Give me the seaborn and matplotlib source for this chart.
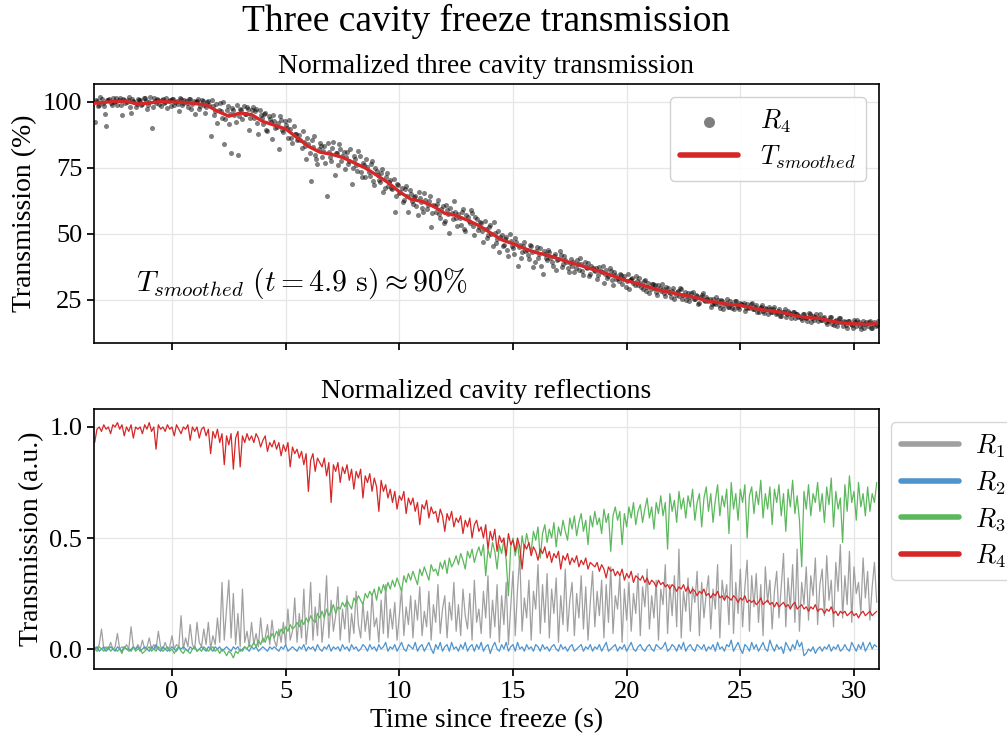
import numpy as np
import pandas as pd
import matplotlib
matplotlib.use("Agg")
import matplotlib.pyplot as plt
import seaborn as sns

# ---------------- data ----------------
# smoothed transmission, sampled every 0.5 s from -3.5 s to 31.0 s
smooth_vals = [99.4, 99.8, 100.3, 100.2, 99.2, 99.6, 100.2, 100.0,
               99.9, 99.4, 98.9, 96.5, 94.6, 95.8, 95.2, 92.6, 91.2, 89.8,
               86.5, 83.2, 81.0, 80.2, 79.0, 77.0, 75.0, 72.3, 69.5, 66.0,
               63.2, 62.3, 60.5, 57.8, 57.0, 55.2, 53.2, 50.5, 47.8, 46.3,
               44.5, 43.0, 42.0, 40.6, 39.2, 38.0, 36.6, 35.3, 33.8, 32.3,
               31.2, 29.8, 28.6, 27.7, 26.8, 26.0, 24.7, 24.1, 23.3, 23.0,
               22.0, 21.2, 20.7, 20.0, 18.9, 18.3, 18.0, 17.0, 16.3, 16.0,
               15.8, 16.0]
smooth_t0, smooth_t1 = -3.5, 31.0

# raw R4 transmission samples, set A: every 0.1 s from -3.4 s to 31.0 s
raw_a = [
    92.5, 100.5, 99.0, 101.2, 98.6, 91.0, 100.8, 99.5, 101.5, 100.2,
    99.0, 101.6, 95.0, 100.7, 99.8, 101.8, 96.0, 100.3, 98.2, 101.0,
    100.6, 99.2, 101.4, 97.5, 100.0, 90.0, 101.5, 99.6, 100.9, 98.4,
    101.2, 99.8, 97.8, 100.6, 101.3, 98.9, 100.4, 96.5, 101.0, 99.6,
    100.2, 98.0, 101.1, 99.4, 95.5, 100.5, 97.2, 100.9, 99.0, 98.1,
    100.4, 87.0, 98.3, 96.5, 92.0, 99.5, 94.0, 84.0, 97.0, 91.5,
    80.5, 96.8, 92.5, 80.0, 97.5, 93.5, 95.5, 98.2, 89.5, 96.8,
    94.0, 97.5, 88.0, 95.2, 91.5, 96.0, 89.0, 93.5, 86.0, 92.8,
    90.5, 82.0, 93.0, 88.5, 91.2, 86.5, 89.8, 84.5, 88.0, 85.5,
    87.5, 82.5, 85.0, 78.5, 84.2, 70.0, 82.8, 80.0, 76.5, 84.5,
    79.0, 83.5, 64.5, 81.2, 77.5, 85.0, 80.5, 76.0, 82.0, 79.5,
    74.5, 81.0, 77.8, 69.0, 79.5, 76.0, 81.5, 73.5, 77.0, 71.5,
    75.5, 72.0, 77.5, 68.5, 74.0, 70.5, 73.0, 66.0, 71.5, 68.0,
    70.5, 67.0, 58.5, 69.0, 65.5, 67.5, 63.0, 68.0, 58.5, 65.0,
    61.5, 64.5, 57.0, 63.5, 60.0, 65.5, 59.5, 62.5, 52.5, 61.0,
    58.5, 63.0, 56.0, 60.5, 55.0, 59.0, 50.5, 58.0, 62.5, 56.0,
    57.5, 53.5, 59.5, 51.0, 56.5, 54.0, 58.0, 49.5, 55.5, 52.5,
    54.0, 47.0, 52.0, 49.5, 53.5, 45.5, 50.5, 48.0, 43.0, 49.5,
    46.0, 49.0, 41.5, 47.5, 44.5, 48.5, 38.0, 46.0, 43.0, 47.0,
    44.0, 40.5, 45.5, 37.5, 43.5, 41.0, 44.5, 35.0, 42.5, 40.0,
    43.0, 39.5, 41.5, 36.5, 40.5, 42.0, 38.5, 40.0, 37.0, 39.0,
    38.0, 35.5, 40.0, 36.5, 38.5, 34.5, 37.5, 39.0, 35.0, 37.0,
    36.0, 33.0, 37.5, 35.5, 31.5, 36.5, 34.0, 36.0, 30.5, 34.5,
    33.5, 35.0, 31.0, 34.0, 32.0, 29.0, 33.0, 31.5, 34.0, 30.5,
    31.5, 29.0, 32.5, 30.0, 27.5, 31.0, 29.5, 28.0, 30.5, 28.5,
    29.0, 26.5, 29.5, 27.5, 28.5, 25.5, 28.0, 26.5, 29.0, 27.0,
    25.0, 27.5, 26.0, 28.0, 25.5, 26.5, 24.0, 27.0, 25.0, 26.0,
    24.5, 22.5, 25.5, 23.5, 25.0, 22.0, 24.5, 23.0, 25.5, 22.5,
    23.5, 21.5, 24.5, 22.5, 24.0, 23.0, 21.0, 23.5, 22.0, 24.0,
    21.5, 23.0, 20.5, 22.5, 21.0, 22.0, 19.5, 21.5, 20.5, 22.5,
    20.0, 21.5, 19.0, 20.5, 18.5, 21.0, 19.5, 20.5, 18.0, 19.5,
    19.0, 17.5, 19.5, 18.0, 20.0, 16.5, 19.0, 18.5, 17.0, 19.5,
    17.5, 18.5, 16.0, 17.0, 18.5, 15.5, 17.5, 16.5, 18.0, 15.0,
    16.5, 14.5, 17.0, 15.5, 17.5, 15.0, 16.5, 14.0, 17.0, 16.0,
    15.0, 17.0, 14.5, 16.5, 15.5]
raw_a_t0, raw_a_t1 = -3.4, 31.0

# raw R4 transmission samples, set B: every 0.1 s from -3.35 s to 31.05 s
raw_b = [
    100.8, 98.5, 101.9, 99.7, 95.5, 100.6, 101.0, 98.8, 100.1, 101.4,
    100.9, 98.7, 101.3, 99.5, 100.6, 97.9, 101.2, 100.0, 99.3, 100.7,
    98.9, 101.5, 100.2, 99.0, 101.7, 98.2, 100.5, 101.1, 99.4, 100.8,
    99.5, 101.6, 100.3, 98.6, 101.0, 100.1, 99.2, 101.5, 98.8, 100.6,
    99.6, 101.3, 97.5, 100.4, 99.9, 101.0, 98.4, 100.2, 96.0, 100.1,
    98.8, 100.6, 95.0, 99.3, 97.0, 96.5, 99.8, 93.5, 98.4, 95.5,
    97.8, 95.0, 99.0, 94.5, 96.8, 98.5, 95.5, 97.2, 94.0, 98.0,
    96.5, 92.0, 97.0, 94.0, 95.5, 89.5, 94.8, 92.5, 95.0, 90.0,
    92.0, 94.5, 89.5, 92.8, 90.0, 93.0, 86.5, 91.0, 88.0, 86.0,
    85.5, 89.0, 83.5, 86.5, 80.5, 85.5, 87.0, 78.5, 82.0, 83.5,
    81.5, 77.0, 84.5, 79.0, 82.5, 72.5, 80.5, 84.0, 77.5, 81.0,
    79.0, 76.5, 82.0, 75.0, 78.5, 74.0, 79.5, 71.5, 76.0, 78.5,
    73.5, 76.5, 70.0, 75.0, 72.5, 69.5, 74.5, 67.5, 73.0, 69.5,
    67.5, 71.0, 64.5, 68.5, 66.0, 62.0, 67.0, 64.5, 66.5, 62.5,
    64.0, 60.5, 66.0, 62.0, 58.5, 63.0, 61.0, 64.5, 58.0, 60.5,
    61.5, 57.5, 59.5, 54.0, 61.0, 57.5, 60.0, 55.5, 58.5, 53.0,
    56.0, 58.5, 52.0, 57.0, 55.0, 59.0, 53.0, 56.5, 51.5, 54.5,
    51.0, 55.0, 48.5, 52.5, 50.0, 54.5, 46.5, 51.0, 49.0, 45.5,
    48.0, 44.0, 50.0, 45.5, 42.5, 47.0, 45.0, 41.0, 45.5, 43.5,
    42.0, 46.0, 43.0, 39.5, 45.0, 42.5, 38.0, 43.5, 41.0, 44.0,
    41.0, 38.0, 42.5, 40.0, 43.5, 37.5, 41.5, 39.5, 35.5, 40.5,
    39.5, 37.0, 38.5, 41.0, 36.0, 39.5, 37.0, 34.0, 38.0, 36.5,
    37.0, 34.5, 36.0, 38.0, 35.0, 33.5, 37.0, 32.5, 35.5, 33.0,
    32.0, 34.5, 33.0, 30.0, 35.0, 32.5, 33.5, 30.5, 32.0, 33.5,
    30.0, 32.0, 28.5, 31.5, 29.0, 31.0, 30.5, 27.0, 29.5, 31.0,
    27.5, 30.0, 28.0, 26.0, 29.5, 27.0, 28.5, 29.5, 25.5, 28.0,
    26.5, 24.5, 27.5, 25.5, 27.0, 23.5, 26.0, 27.5, 24.5, 25.5,
    25.5, 23.5, 24.0, 26.0, 23.0, 25.0, 21.5, 24.0, 22.5, 24.5,
    22.0, 24.5, 23.0, 21.5, 23.5, 24.0, 22.0, 22.5, 23.5, 21.5,
    22.5, 20.5, 22.0, 23.0, 20.0, 21.5, 22.5, 20.5, 21.5, 19.5,
    21.0, 19.0, 20.5, 21.5, 19.5, 20.0, 18.0, 20.5, 19.5, 18.5,
    18.0, 19.5, 18.5, 17.0, 19.5, 18.0, 17.5, 19.5, 18.0, 17.5,
    18.0, 16.5, 17.5, 18.5, 16.0, 17.0, 15.0, 18.0, 16.5, 17.0,
    15.5, 17.0, 16.0, 14.5, 16.5, 17.5, 15.0, 16.0, 14.5, 16.5,
    16.5, 14.5, 16.0, 15.0, 17.0]
raw_b_t0, raw_b_t1 = -3.35, 31.05

# normalized cavity reflections, every 0.1 s from -3.4 s to 31.0 s
refl_t0, refl_t1 = -3.4, 31.0
r1_vals = [
    0.01, 0.00, 0.02, 0.09, 0.00, 0.01, 0.00, 0.03, 0.00, 0.01,
    0.07, 0.00, 0.01, 0.00, 0.02, 0.00, 0.10, 0.01, 0.00, 0.02,
    0.00, 0.04, 0.00, 0.01, 0.05, 0.00, 0.02, 0.00, 0.08, 0.01,
    0.00, 0.03, 0.00, 0.01, 0.06, 0.00, 0.02, 0.01, 0.15, 0.00,
    0.05, 0.01, 0.11, 0.02, 0.00, 0.12, 0.03, 0.01, 0.09, 0.02,
    0.12, 0.00, 0.06, 0.02, 0.14, 0.03, 0.30, 0.04, 0.18, 0.31,
    0.05, 0.25, 0.02, 0.16, 0.01, 0.27, 0.03, 0.08, 0.01, 0.12,
    0.02, 0.07, 0.01, 0.14, 0.03, 0.05, 0.11, 0.02, 0.13, 0.04,
    0.01, 0.09, 0.03, 0.12, 0.02, 0.18, 0.04, 0.08, 0.23, 0.03,
    0.16, 0.05, 0.27, 0.02, 0.12, 0.30, 0.04, 0.19, 0.06, 0.25,
    0.03, 0.14, 0.33, 0.05, 0.22, 0.08, 0.15, 0.28, 0.04, 0.18,
    0.09, 0.24, 0.03, 0.16, 0.07, 0.26, 0.11, 0.05, 0.21, 0.08,
    0.17, 0.04, 0.25, 0.10, 0.14, 0.03, 0.22, 0.07, 0.29, 0.05,
    0.18, 0.09, 0.21, 0.04, 0.15, 0.27, 0.06, 0.19, 0.11, 0.24,
    0.05, 0.22, 0.13, 0.28, 0.06, 0.17, 0.10, 0.26, 0.04, 0.20,
    0.12, 0.29, 0.07, 0.18, 0.24, 0.05, 0.21, 0.13, 0.30, 0.08,
    0.20, 0.06, 0.27, 0.15, 0.09, 0.25, 0.04, 0.31, 0.12, 0.18,
    0.07, 0.26, 0.14, 0.33, 0.05, 0.22, 0.10, 0.29, 0.03, 0.24,
    0.11, 0.30, 0.02, 0.19, 0.35, 0.06, 0.27, 0.42, 0.08, 0.23,
    0.14, 0.31, 0.04, 0.26, 0.18, 0.38, 0.07, 0.29, 0.12, 0.34,
    0.05, 0.27, 0.16, 0.32, 0.03, 0.24, 0.11, 0.36, 0.08, 0.22,
    0.30, 0.06, 0.25, 0.14, 0.33, 0.09, 0.28, 0.04, 0.21, 0.35,
    0.10, 0.26, 0.15, 0.31, 0.05, 0.29, 0.12, 0.37, 0.07, 0.24,
    0.18, 0.33, 0.03, 0.27, 0.13, 0.30, 0.08, 0.25, 0.16, 0.34,
    0.06, 0.28, 0.19, 0.36, 0.09, 0.24, 0.14, 0.31, 0.04, 0.27,
    0.20, 0.38, 0.07, 0.29, 0.15, 0.33, 0.10, 0.45, 0.05, 0.26,
    0.17, 0.32, 0.08, 0.28, 0.21, 0.35, 0.06, 0.30, 0.14, 0.25,
    0.33, 0.09, 0.27, 0.18, 0.38, 0.05, 0.31, 0.22, 0.29, 0.11,
    0.47, 0.07, 0.30, 0.16, 0.36, 0.10, 0.28, 0.40, 0.08, 0.33,
    0.19, 0.34, 0.12, 0.29, 0.06, 0.37, 0.21, 0.31, 0.09, 0.26,
    0.35, 0.14, 0.28, 0.43, 0.10, 0.32, 0.18, 0.38, 0.12, 0.45,
    0.08, 0.30, 0.20, 0.37, 0.13, 0.33, 0.24, 0.41, 0.11, 0.29,
    0.36, 0.15, 0.42, 0.22, 0.31, 0.10, 0.39, 0.26, 0.47, 0.14,
    0.33, 0.20, 0.44, 0.12, 0.37, 0.25, 0.30, 0.16, 0.41, 0.23,
    0.35, 0.13, 0.28, 0.39, 0.21]
r2_vals = [
    0.00, 0.01, -0.01, 0.00, 0.01, -0.01, 0.00, 0.01, 0.00, -0.01,
    0.01, 0.00, -0.01, 0.01, 0.00, 0.00, -0.01, 0.01, 0.00, 0.01,
    -0.01, 0.00, 0.01, 0.00, -0.01, 0.01, 0.00, 0.02, 0.00, -0.01,
    0.01, 0.00, -0.01, 0.00, 0.01, 0.00, -0.01, 0.01, 0.00, 0.01,
    0.00, -0.01, 0.01, 0.00, 0.01, -0.01, 0.00, 0.01, 0.00, -0.01,
    0.01, 0.00, -0.01, 0.01, 0.00, 0.01, -0.01, 0.00, 0.01, 0.00,
    -0.01, 0.01, 0.00, 0.01, -0.01, 0.00, 0.01, 0.00, -0.01, 0.01,
    0.00, 0.01, -0.01, 0.00, 0.01, 0.00, -0.01, 0.01, 0.00, 0.01,
    0.00, -0.01, 0.01, 0.00, 0.02, -0.01, 0.00, 0.01, 0.00, -0.01,
    0.01, 0.00, 0.02, -0.01, 0.01, 0.00, 0.01, -0.01, 0.02, 0.00,
    -0.01, 0.01, 0.00, 0.02, -0.01, 0.01, 0.00, 0.01, -0.01, 0.02,
    0.00, 0.01, -0.01, 0.02, 0.00, 0.01, -0.01, 0.00, 0.02, 0.01,
    -0.01, 0.02, 0.00, 0.01, -0.01, 0.02, 0.00, 0.01, 0.03, -0.01,
    0.01, 0.00, 0.02, -0.01, 0.01, 0.03, 0.00, -0.01, 0.02, 0.01,
    0.00, 0.03, -0.01, 0.01, 0.02, -0.01, 0.01, 0.03, 0.00, -0.02,
    0.02, 0.00, 0.03, -0.01, 0.01, 0.02, -0.01, 0.03, 0.00, 0.01,
    -0.01, 0.02, 0.00, 0.03, -0.01, 0.01, 0.02, -0.01, 0.02, 0.00,
    0.03, -0.01, 0.01, 0.02, -0.02, 0.01, 0.03, 0.00, -0.01, 0.02,
    0.00, 0.03, -0.01, 0.01, 0.02, -0.01, 0.03, 0.00, 0.01, -0.01,
    0.02, 0.00, 0.01, -0.01, 0.02, 0.01, -0.01, 0.02, 0.00, 0.01,
    -0.01, 0.01, 0.02, 0.00, -0.01, 0.02, 0.00, 0.01, -0.01, 0.01,
    0.02, -0.01, 0.00, 0.01, 0.02, -0.01, 0.01, 0.00, 0.02, -0.01,
    0.01, 0.00, 0.02, -0.01, 0.01, 0.03, -0.01, 0.00, 0.01, 0.02,
    -0.01, 0.01, 0.00, 0.02, -0.01, 0.01, 0.03, 0.00, -0.01, 0.01,
    0.02, 0.00, -0.01, 0.01, 0.02, 0.00, -0.01, 0.02, 0.01, 0.00,
    0.01, 0.03, -0.01, 0.00, 0.02, 0.01, -0.01, 0.02, 0.00, 0.03,
    -0.01, 0.01, 0.02, 0.00, -0.01, 0.02, 0.01, 0.00, 0.02, -0.01,
    0.01, 0.00, 0.02, -0.01, 0.03, 0.00, 0.01, -0.01, 0.02, 0.01,
    0.04, -0.01, 0.01, 0.03, 0.00, -0.02, 0.02, 0.01, -0.01, 0.03,
    0.00, 0.02, -0.01, 0.01, 0.03, 0.00, -0.01, 0.04, 0.01, -0.01,
    0.02, 0.00, 0.01, -0.02, 0.03, 0.01, -0.01, 0.02, 0.00, 0.04,
    0.01, 0.03, -0.03, -0.02, 0.00, -0.01, 0.01, -0.02, 0.00, 0.01,
    -0.01, 0.01, 0.00, 0.02, -0.01, 0.01, 0.00, 0.02, -0.01, 0.00,
    0.02, 0.00, -0.01, 0.03, 0.01, -0.01, 0.02, 0.00, 0.03, -0.01,
    0.01, 0.03, 0.00, 0.02, 0.01]
r3_vals = [
    0.00, -0.01, 0.01, 0.00, -0.01, 0.00, 0.01, -0.01, 0.00, 0.00,
    -0.01, 0.00, -0.02, 0.01, 0.00, -0.01, 0.00, 0.01, -0.01, 0.00,
    0.00, -0.02, -0.01, 0.00, 0.01, -0.01, 0.00, -0.01, 0.01, 0.00,
    -0.01, 0.00, 0.01, -0.01, 0.00, -0.02, 0.00, 0.01, -0.01, -0.02,
    0.00, -0.01, -0.02, 0.00, 0.01, -0.01, 0.00, -0.01, 0.01, 0.00,
    -0.01, 0.00, 0.01, -0.01, 0.00, -0.02, 0.00, -0.01, -0.03, -0.01,
    -0.02, -0.04, -0.01, -0.02, 0.00, -0.01, 0.01, 0.00, 0.02, 0.01,
    0.03, 0.01, 0.04, 0.02, 0.05, 0.03, 0.06, 0.04, 0.07, 0.05,
    0.08, 0.06, 0.09, 0.07, 0.10, 0.08, 0.11, 0.09, 0.10, 0.12,
    0.10, 0.13, 0.11, 0.14, 0.12, 0.15, 0.13, 0.12, 0.16, 0.14,
    0.17, 0.14, 0.18, 0.15, 0.17, 0.20, 0.16, 0.19, 0.18, 0.21,
    0.19, 0.22, 0.20, 0.18, 0.23, 0.21, 0.24, 0.22, 0.20, 0.25,
    0.23, 0.26, 0.24, 0.27, 0.22, 0.28, 0.25, 0.29, 0.26, 0.30,
    0.27, 0.31, 0.28, 0.32, 0.29, 0.26, 0.33, 0.30, 0.34, 0.31,
    0.35, 0.32, 0.29, 0.36, 0.33, 0.37, 0.34, 0.31, 0.38, 0.35,
    0.36, 0.33, 0.39, 0.36, 0.40, 0.34, 0.41, 0.37, 0.39, 0.42,
    0.38, 0.43, 0.40, 0.36, 0.44, 0.41, 0.45, 0.39, 0.43, 0.46,
    0.42, 0.47, 0.33, 0.45, 0.41, 0.48, 0.44, 0.36, 0.47, 0.43,
    0.49, 0.40, 0.24, 0.46, 0.50, 0.42, 0.48, 0.38, 0.51, 0.45,
    0.52, 0.47, 0.44, 0.53, 0.49, 0.55, 0.41, 0.52, 0.56, 0.48,
    0.54, 0.50, 0.57, 0.46, 0.55, 0.51, 0.58, 0.53, 0.49, 0.59,
    0.54, 0.60, 0.51, 0.57, 0.61, 0.53, 0.58, 0.47, 0.60, 0.55,
    0.62, 0.56, 0.59, 0.52, 0.63, 0.57, 0.61, 0.44, 0.60, 0.64,
    0.58, 0.62, 0.47, 0.61, 0.55, 0.64, 0.59, 0.66, 0.56, 0.62,
    0.65, 0.57, 0.63, 0.68, 0.59, 0.64, 0.54, 0.66, 0.61, 0.69,
    0.60, 0.66, 0.45, 0.70, 0.62, 0.67, 0.57, 0.71, 0.63, 0.68,
    0.59, 0.69, 0.64, 0.72, 0.58, 0.66, 0.70, 0.55, 0.68, 0.73,
    0.62, 0.70, 0.57, 0.67, 0.74, 0.60, 0.69, 0.64, 0.72, 0.52,
    0.75, 0.63, 0.70, 0.58, 0.72, 0.66, 0.74, 0.50, 0.69, 0.73,
    0.61, 0.71, 0.65, 0.76, 0.59, 0.70, 0.63, 0.73, 0.56, 0.72,
    0.66, 0.74, 0.60, 0.70, 0.53, 0.72, 0.64, 0.76, 0.61, 0.69,
    0.58, 0.37, 0.71, 0.63, 0.74, 0.60, 0.70, 0.66, 0.75, 0.62,
    0.70, 0.57, 0.73, 0.65, 0.77, 0.55, 0.71, 0.63, 0.68, 0.48,
    0.74, 0.62, 0.78, 0.66, 0.71, 0.58, 0.75, 0.64, 0.70, 0.60,
    0.73, 0.62, 0.70, 0.66, 0.75]
r4_vals = [
    0.93, 0.99, 1.00, 0.98, 1.01, 0.99, 1.00, 0.97, 1.01, 1.00,
    1.02, 0.99, 1.01, 0.96, 1.00, 0.98, 1.01, 0.95, 1.00, 0.99,
    1.00, 0.97, 1.01, 0.99, 1.02, 0.98, 1.00, 0.90, 1.01, 0.99,
    1.00, 0.98, 1.01, 0.99, 1.00, 0.96, 1.01, 0.99, 0.97, 1.00,
    0.99, 1.01, 0.94, 1.00, 0.98, 1.00, 0.95, 0.99, 1.00, 0.96,
    0.99, 0.88, 0.98, 0.95, 0.99, 0.93, 0.97, 0.83, 0.96, 0.92,
    0.97, 0.81, 0.95, 0.98, 0.82, 0.96, 0.93, 0.97, 0.94, 0.96,
    0.93, 0.97, 0.95, 0.91, 0.94, 0.96, 0.89, 0.93, 0.91, 0.94,
    0.90, 0.93, 0.87, 0.92, 0.89, 0.93, 0.82, 0.91, 0.88, 0.90,
    0.86, 0.89, 0.83, 0.88, 0.71, 0.85, 0.88, 0.80, 0.86, 0.84,
    0.82, 0.86, 0.78, 0.84, 0.66, 0.83, 0.80, 0.84, 0.75, 0.82,
    0.79, 0.83, 0.76, 0.81, 0.72, 0.80, 0.77, 0.81, 0.68, 0.78,
    0.75, 0.79, 0.71, 0.77, 0.73, 0.62, 0.76, 0.71, 0.74, 0.68,
    0.72, 0.66, 0.71, 0.63, 0.69, 0.67, 0.71, 0.61, 0.68, 0.65,
    0.68, 0.62, 0.66, 0.56, 0.65, 0.63, 0.67, 0.59, 0.64, 0.61,
    0.62, 0.57, 0.63, 0.60, 0.53, 0.61, 0.58, 0.62, 0.55, 0.59,
    0.57, 0.60, 0.52, 0.58, 0.55, 0.59, 0.50, 0.56, 0.58, 0.53,
    0.55, 0.50, 0.56, 0.45, 0.53, 0.49, 0.54, 0.44, 0.51, 0.48,
    0.50, 0.42, 0.52, 0.47, 0.49, 0.44, 0.50, 0.46, 0.36, 0.47,
    0.45, 0.48, 0.42, 0.46, 0.44, 0.40, 0.45, 0.43, 0.46, 0.41,
    0.44, 0.39, 0.43, 0.41, 0.44, 0.36, 0.42, 0.40, 0.43, 0.38,
    0.41, 0.39, 0.42, 0.37, 0.40, 0.38, 0.41, 0.36, 0.39, 0.38,
    0.37, 0.39, 0.35, 0.38, 0.36, 0.32, 0.37, 0.35, 0.36, 0.33,
    0.35, 0.33, 0.36, 0.31, 0.34, 0.32, 0.35, 0.30, 0.33, 0.32,
    0.31, 0.33, 0.30, 0.32, 0.29, 0.31, 0.30, 0.28, 0.31, 0.29,
    0.30, 0.28, 0.29, 0.27, 0.29, 0.28, 0.26, 0.28, 0.27, 0.29,
    0.26, 0.28, 0.25, 0.27, 0.26, 0.24, 0.26, 0.25, 0.27, 0.24,
    0.25, 0.23, 0.25, 0.24, 0.26, 0.23, 0.24, 0.22, 0.24, 0.23,
    0.22, 0.24, 0.23, 0.21, 0.23, 0.22, 0.24, 0.21, 0.22, 0.21,
    0.22, 0.20, 0.21, 0.23, 0.20, 0.21, 0.22, 0.20, 0.21, 0.19,
    0.21, 0.19, 0.20, 0.21, 0.19, 0.20, 0.18, 0.20, 0.21, 0.18,
    0.19, 0.20, 0.18, 0.19, 0.17, 0.19, 0.18, 0.20, 0.17, 0.18,
    0.18, 0.16, 0.18, 0.17, 0.19, 0.16, 0.17, 0.15, 0.17, 0.16,
    0.17, 0.15, 0.16, 0.17, 0.15, 0.16, 0.14, 0.16, 0.17, 0.15,
    0.16, 0.17, 0.15, 0.16, 0.17]

series_labels = [r"$R_1$", r"$R_2$", r"$R_3$", r"$R_4$"]
series_colors = ["#a0a0a0", "#4f94cd", "#5cb85c", "#d62728"]

x_ticks = [0, 5, 10, 15, 20, 25, 30]
top_yticks = [25, 50, 75, 100]
bot_yticks = [0.0, 0.5, 1.0]
bot_yticklabels = ["0.0", "0.5", "1.0"]

# ---------------- style ----------------
sns.set_theme(style="whitegrid")
plt.rcParams.update({
    "font.family": ["Liberation Serif", "DejaVu Serif"],
    "mathtext.fontset": "cm",
    "text.color": "black",
    "axes.labelcolor": "black",
    "axes.edgecolor": "black",
    "axes.linewidth": 1.2,
    "grid.color": "#e6e6e6",
    "grid.linewidth": 0.9,
    "xtick.bottom": True,
    "ytick.left": True,
    "xtick.direction": "out",
    "ytick.direction": "out",
    "xtick.major.size": 5,
    "ytick.major.size": 5,
    "xtick.color": "black",
    "ytick.color": "black",
    "xtick.labelsize": 19,
    "ytick.labelsize": 19,
})

fig = plt.figure(figsize=(10.07, 7.42), dpi=100)
ax1 = fig.add_axes([94 / 1007, 1 - 343 / 742, 785 / 1007, 259 / 742])
ax2 = fig.add_axes([94 / 1007, 1 - 669 / 742, 785 / 1007, 260 / 742], sharex=ax1)

# ---------------- top panel ----------------
df_raw = pd.concat([
    pd.DataFrame({"t": np.linspace(raw_a_t0, raw_a_t1, len(raw_a)), "T": raw_a}),
    pd.DataFrame({"t": np.linspace(raw_b_t0, raw_b_t1, len(raw_b)), "T": raw_b}),
], ignore_index=True)
df_sm = pd.DataFrame({"t": np.linspace(smooth_t0, smooth_t1, len(smooth_vals)),
                      "T": smooth_vals})

sns.scatterplot(data=df_raw, x="t", y="T", ax=ax1, color="black", alpha=0.5,
                s=13, linewidth=0, label=r"$R_4$", zorder=2)
sns.lineplot(data=df_sm, x="t", y="T", ax=ax1, color="#d62728", lw=2.4,
             estimator=None, label=r"$T_{smoothed}$", zorder=3)
ax1.set_title("Normalized three cavity transmission", fontsize=20, pad=8)
ax1.set_ylabel("Transmission (%)", fontsize=20)
ax1.set_xlabel("")
ax1.set_yticks(top_yticks)
ax1.set_ylim(8.7, 106.8)
ax1.tick_params(labelbottom=False)
ax1.text(-1.6, 28.3, r"$T_{smoothed}\ (t = 4.9\ \mathrm{s}) \approx 90\%$",
         fontsize=21.5, ha="left", va="baseline")
leg1 = ax1.legend(loc="upper right", fontsize=19, markerscale=2.2,
                  frameon=True, fancybox=True, framealpha=0.9,
                  handlelength=2.2, borderpad=0.4, labelspacing=0.3)
leg1.get_frame().set_edgecolor("#cccccc")
for h in leg1.legend_handles:
    if hasattr(h, "set_linewidth") and not hasattr(h, "get_offsets"):
        h.set_linewidth(4)

# ---------------- bottom panel ----------------
for vals, lab, col in zip([r1_vals, r2_vals, r3_vals, r4_vals], series_labels, series_colors):
    df = pd.DataFrame({"t": np.linspace(refl_t0, refl_t1, len(vals)), "v": vals})
    sns.lineplot(data=df, x="t", y="v", ax=ax2, color=col, lw=0.9,
                 estimator=None, label=lab)
ax2.set_title("Normalized cavity reflections", fontsize=20, pad=8)
ax2.set_ylabel("Transmission (a.u.)", fontsize=20)
ax2.set_xlabel("Time since freeze (s)", fontsize=20)
ax2.set_yticks(bot_yticks)
ax2.set_yticklabels(bot_yticklabels)
ax2.set_ylim(-0.09, 1.081)
ax2.set_xticks(x_ticks)
ax2.set_xlim(-3.43, 31.1)
leg2 = ax2.legend(loc="upper left", bbox_to_anchor=(1.015, 0.95), fontsize=19,
                  frameon=True, fancybox=True, handlelength=2.2, handletextpad=0.6,
                  borderpad=0.4, labelspacing=0.35, borderaxespad=0)
leg2.get_frame().set_edgecolor("#cccccc")
for h in leg2.legend_handles:
    h.set_linewidth(4)

fig.suptitle("Three cavity freeze transmission", fontsize=27,
             x=486.5 / 1007, y=0.995, va="top")

fig.savefig("out.png", dpi=100)
